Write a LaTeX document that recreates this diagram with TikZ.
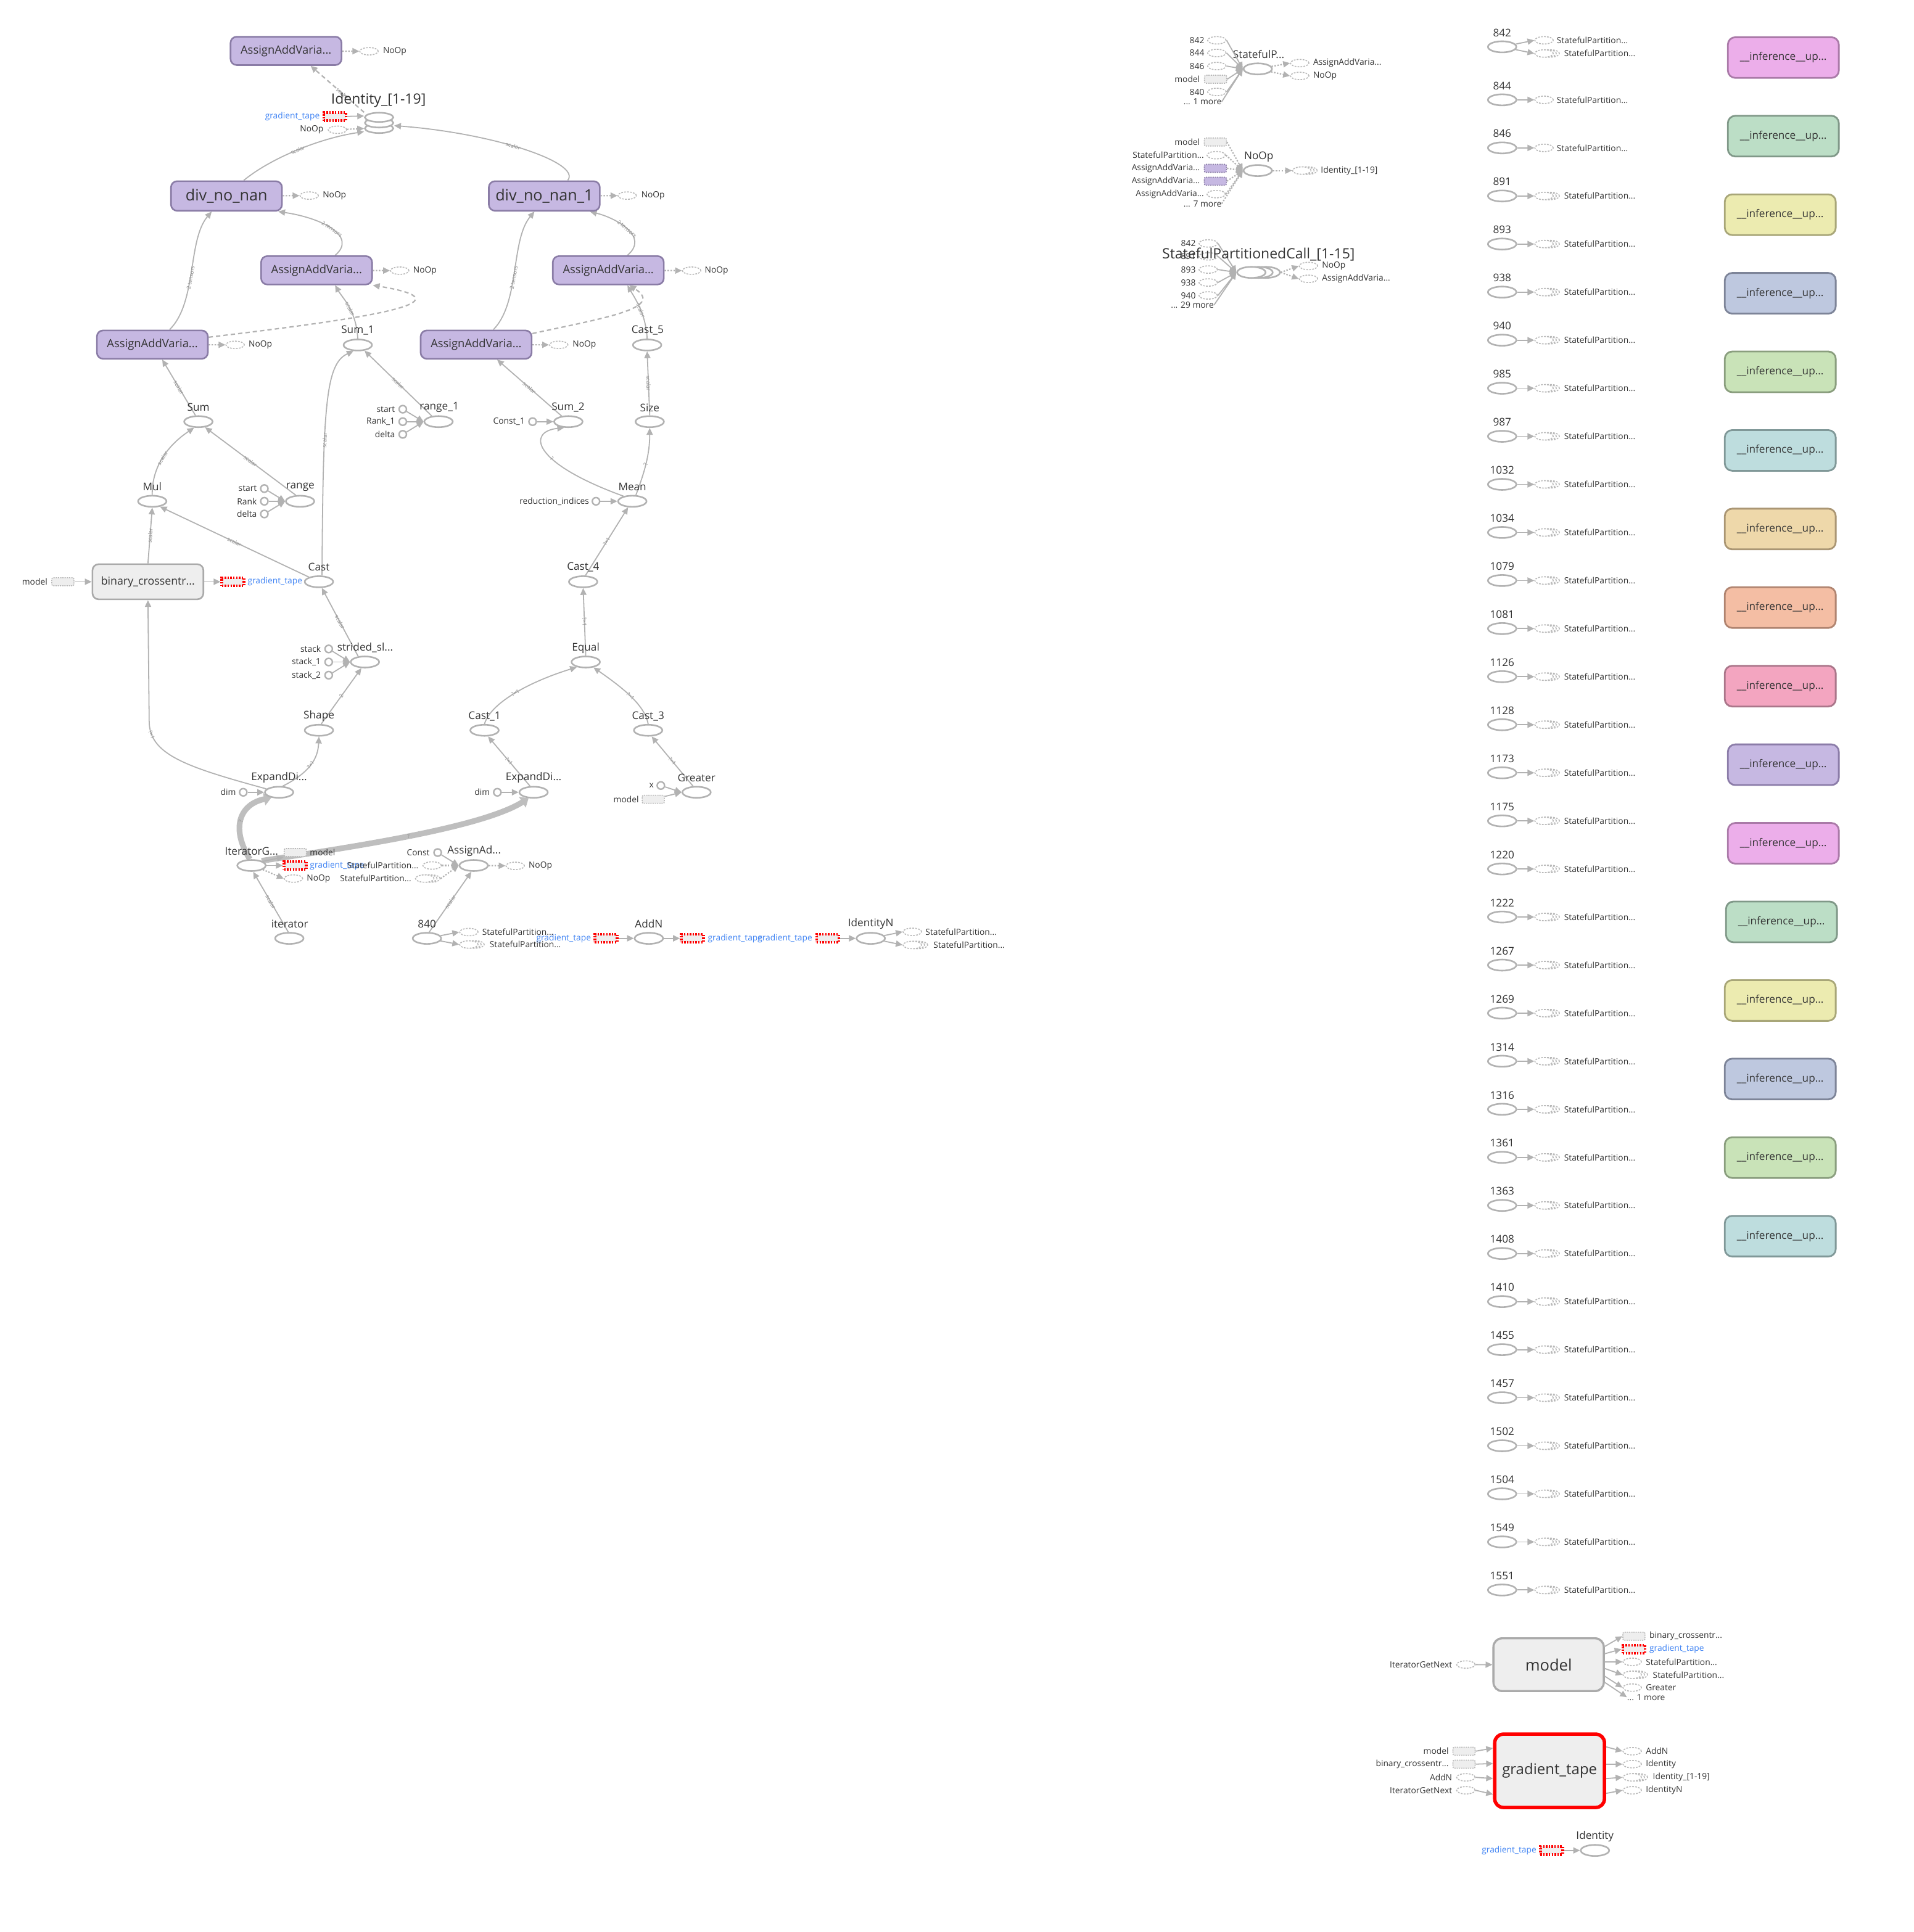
\documentclass[tikz,border=0pt]{standalone}
\usepackage{fontspec}
\setmainfont{Open Sans}
\usetikzlibrary{shapes.geometric,arrows.meta,calc}
\pgfdeclarelayer{back}
\pgfdeclarelayer{edges}
\pgfsetlayers{back,edges,main}

\definecolor{txt}{RGB}{51,51,51}
\definecolor{opc}{RGB}{178,178,178}
\definecolor{edgec}{RGB}{178,178,178}
\definecolor{fatc}{RGB}{190,190,190}
\definecolor{refc}{RGB}{185,185,185}
\definecolor{lightfill}{RGB}{238,238,238}
\definecolor{gborder}{RGB}{170,170,170}
\definecolor{pfill}{RGB}{198,184,226}
\definecolor{pborder}{RGB}{138,124,166}
\definecolor{tapeblue}{RGB}{66,133,244}
\definecolor{elc}{RGB}{140,140,140}
% function-library palette
\definecolor{ipk}{RGB}{236,174,234}\definecolor{ipkB}{RGB}{170,122,168}
\definecolor{igr}{RGB}{188,222,198}\definecolor{igrB}{RGB}{128,152,136}
\definecolor{iye}{RGB}{236,235,176}\definecolor{iyeB}{RGB}{168,166,120}
\definecolor{ibl}{RGB}{190,200,223}\definecolor{iblB}{RGB}{125,132,152}
\definecolor{ilg}{RGB}{201,227,184}\definecolor{ilgB}{RGB}{138,158,126}
\definecolor{ite}{RGB}{190,221,222}\definecolor{iteB}{RGB}{128,152,152}
\definecolor{ita}{RGB}{238,216,170}\definecolor{itaB}{RGB}{170,150,116}
\definecolor{isa}{RGB}{244,190,164}\definecolor{isaB}{RGB}{176,132,112}
\definecolor{iro}{RGB}{243,165,192}\definecolor{iroB}{RGB}{170,118,138}
\definecolor{ilv}{RGB}{198,184,226}\definecolor{ilvB}{RGB}{139,124,168}

% stacked (series) reference: name, x, y
\newcommand\stk[3]{%
  \node[refn] at (#2+5,#3) {};
  \node[refn] at (#2+2.5,#3) {};
  \node[refn] (#1) at (#2,#3) {};}

\begin{document}
\begin{tikzpicture}[x=1pt,y=-1pt,
  op/.style={ellipse, draw=opc, line width=1.3pt, fill=white, minimum width=23pt, minimum height=9pt, inner sep=0pt},
  refn/.style={ellipse, draw=refc, line width=0.8pt, dash pattern=on 1.4pt off 1pt, fill=white, minimum width=15pt, minimum height=6pt, inner sep=0pt},
  cst/.style={circle, draw=opc, line width=1.2pt, fill=white, minimum size=6pt, inner sep=0pt},
  tape/.style={rectangle, draw=red, line width=2.3pt, dash pattern=on 1.2pt off 1.1pt, fill=lightfill, minimum width=18pt, minimum height=6.5pt, inner sep=0pt},
  mref/.style={rectangle, rounded corners=1.2pt, draw=refc, line width=0.8pt, dash pattern=on 1pt off 0.8pt, fill=lightfill, minimum width=18pt, minimum height=6.5pt, inner sep=0pt},
  pref/.style={mref, draw=pborder, fill=pfill},
  fbox/.style={rectangle, rounded corners=5pt, draw=pborder, fill=pfill, line width=1.3pt, minimum width=90pt, minimum height=23pt, inner sep=0pt, text=txt, font=\fontsize{9.2}{10}\selectfont},
  gbox/.style={fbox, draw=gborder, fill=lightfill},
  infbox/.style={rectangle, rounded corners=6pt, line width=1.4pt, minimum width=90pt, minimum height=33pt, inner sep=0pt, text=txt, font=\fontsize{8.6}{10}\selectfont},
  oplbl/.style={font=\fontsize{8.6}{10}\selectfont, text=txt, inner sep=0pt},
  sml/.style={font=\fontsize{6.9}{8}\selectfont, text=txt, inner sep=0pt},
  blu/.style={sml, text=tapeblue},
  big/.style={font=\fontsize{11.5}{13}\selectfont, text=txt, inner sep=0pt},
  link/.style={draw=edgec, line width=0.9pt, -{Triangle[length=5.5pt,width=5pt]}},
  ctl/.style={link, dash pattern=on 1.2pt off 1.2pt, line width=1.1pt},
  dsh/.style={link, dash pattern=on 3.5pt off 2.5pt, line width=1.1pt},
  fat/.style={draw=fatc, line width=4.6pt, -{Triangle[length=6pt,width=10pt]}},
  elbl/.style={font=\fontsize{4.4}{5}\selectfont, text=elc, sloped, inner sep=0.5pt}]

\begin{pgfonlayer}{back}
\fill[white] (0,0) rectangle (1552,1567.5);
\end{pgfonlayer}
\useasboundingbox (0,0) rectangle (1552,1567.5);

% ================= main training graph =================
\node[fbox] (aav0) at (232,41.3) {AssignAddVaria...};
\node[refn] (aav0n) at (299.3,41.6) {};
\node[sml,anchor=west] at (310.5,41.6) {NoOp};

% Identity_[1-19] series icon
\node[op, minimum height=7.5pt] at (307.5,104.2) {};
\node[op, minimum height=7.5pt] at (307.5,99.7) {};
\node[op, minimum height=7.5pt] at (307.5,95.2) {};
\node[minimum width=24pt, minimum height=17pt, inner sep=0pt] (ids) at (307.5,99.8) {};
\node[big] at (307,81.2) {Identity\_[1-19]};
\node[tape] (idtape) at (271.6,94.7) {};
\node[blu,anchor=east] at (259.5,94.7) {gradient\_tape};
\node[refn] (idnoop) at (273.7,105.3) {};
\node[sml,anchor=east] at (262.5,105.3) {NoOp};

\node[fbox, minimum height=24pt, font=\fontsize{12.6}{14}\selectfont] (dnn) at (183.7,159) {div\_no\_nan};
\node[refn] (dnnn) at (250.8,158.7) {};
\node[sml,anchor=west] at (261.6,158.7) {NoOp};
\node[fbox, minimum height=24pt, font=\fontsize{12.6}{14}\selectfont] (dnn1) at (441.5,159) {div\_no\_nan\_1};
\node[refn] (dnn1n) at (508.7,158.7) {};
\node[sml,anchor=west] at (520,158.7) {NoOp};

\node[fbox] (aav1) at (256.8,219.3) {AssignAddVaria...};
\node[refn] (aav1n) at (324.2,219.6) {};
\node[sml,anchor=west] at (335,219.6) {NoOp};
\node[fbox] (aav4) at (493.4,219.3) {AssignAddVaria...};
\node[refn] (aav4n) at (561,219.6) {};
\node[sml,anchor=west] at (571.5,219.6) {NoOp};

\node[fbox] (aav2) at (123.6,279.6) {AssignAddVaria...};
\node[refn] (aav2n) at (190.7,279.8) {};
\node[sml,anchor=west] at (201.5,279.8) {NoOp};
\node[fbox] (aav3) at (386.2,279.6) {AssignAddVaria...};
\node[refn] (aav3n) at (453.2,279.8) {};
\node[sml,anchor=west] at (464.3,279.8) {NoOp};

\node[op] (sum1) at (290.2,279.9) {}; \node[oplbl] at (290.2,267.8) {Sum\_1};
\node[op] (cast5) at (524.9,279.9) {}; \node[oplbl] at (525.3,267.8) {Cast\_5};

\node[op] (sum) at (160.9,342.1) {}; \node[oplbl] at (160.9,330.6) {Sum};
\node[op] (range1) at (355.7,342.1) {}; \node[oplbl] at (356.3,330.6) {range\_1};
\node[cst] (r1a) at (326.7,332) {}; \node[sml,anchor=east] at (320.5,332) {start};
\node[cst] (r1b) at (326.7,342.1) {}; \node[sml,anchor=east] at (320.5,342.1) {Rank\_1};
\node[cst] (r1c) at (326.7,352.4) {}; \node[sml,anchor=east] at (320.5,352.4) {delta};
\node[op] (sum2) at (461,342.1) {}; \node[oplbl] at (460.8,330.6) {Sum\_2};
\node[cst] (c1) at (432,342.1) {}; \node[sml,anchor=east] at (425.8,342.1) {Const\_1};
\node[op] (size) at (527,342.1) {}; \node[oplbl] at (527,330.6) {Size};

\node[op] (mul) at (123.5,406.7) {}; \node[oplbl] at (123.5,395) {Mul};
\node[op] (rng) at (243.4,406.7) {}; \node[oplbl] at (243.6,395) {range};
\node[cst] (ra) at (214.4,396.4) {}; \node[sml,anchor=east] at (208.5,396.4) {start};
\node[cst] (rb) at (214.4,406.7) {}; \node[sml,anchor=east] at (208.5,406.7) {Rank};
\node[cst] (rc) at (214.4,417) {}; \node[sml,anchor=east] at (208.5,417) {delta};
\node[op] (mean) at (512.9,406.7) {}; \node[oplbl] at (512.9,395) {Mean};
\node[cst] (ri) at (483.4,406.7) {}; \node[sml,anchor=east] at (478,406.7) {reduction\_indices};

\node[gbox, minimum height=28.5pt, font=\fontsize{8.9}{10}\selectfont] (bce) at (120,472) {binary\_crossentr...};
\node[mref] (bcem) at (51,472) {}; \node[sml,anchor=east] at (38.6,472) {model};
\node[tape] (bcet) at (189,472) {}; \node[blu,anchor=west] at (200.7,472) {gradient\_tape};
\node[op] (cast) at (258.7,472) {}; \node[oplbl] at (258.7,460.2) {Cast};
\node[op] (cast4) at (473,472) {}; \node[oplbl] at (473,460.2) {Cast\_4};

\node[op] (ss) at (296,537.1) {}; \node[oplbl] at (296.2,525.7) {strided\_sl...};
\node[cst] (s1) at (266.6,526.5) {}; \node[sml,anchor=east] at (260.4,526.5) {stack};
\node[cst] (s2) at (266.6,537.1) {}; \node[sml,anchor=east] at (260.4,537.1) {stack\_1};
\node[cst] (s3) at (266.6,547.8) {}; \node[sml,anchor=east] at (260.4,547.8) {stack\_2};
\node[op] (equal) at (475.1,537.1) {}; \node[oplbl] at (475.1,525.7) {Equal};

\node[op] (shape) at (258.7,592.5) {}; \node[oplbl] at (258.7,581) {Shape};
\node[op] (cast1) at (393,592.5) {}; \node[oplbl] at (393,581) {Cast\_1};
\node[op] (cast3) at (525.7,592.5) {}; \node[oplbl] at (525.7,581) {Cast\_3};

\node[op] (expL) at (226.4,642.8) {}; \node[oplbl] at (226.4,631) {ExpandDi...};
\node[cst] (dimL) at (197.3,642.8) {}; \node[sml,anchor=east] at (191.5,642.8) {dim};
\node[op] (expR) at (432.8,642.8) {}; \node[oplbl] at (432.8,631) {ExpandDi...};
\node[cst] (dimR) at (403.4,642.8) {}; \node[sml,anchor=east] at (397.5,642.8) {dim};
\node[op] (greater) at (565,642.8) {}; \node[oplbl] at (565,631) {Greater};
\node[cst] (gx) at (536,637.3) {}; \node[sml,anchor=east] at (530.5,637.3) {x};
\node[mref] (gm) at (529.9,648.5) {}; \node[sml,anchor=east] at (518.3,648.5) {model};

\node[op] (iterG) at (204,702.2) {}; \node[oplbl] at (204,690.7) {IteratorG...};
\node[mref] (im) at (239.5,691.7) {}; \node[sml,anchor=west] at (251.2,691.7) {model};
\node[tape] (it) at (239.5,702.2) {}; \node[blu,anchor=west] at (251.2,702.2) {gradient\_tape};
\node[refn] (in) at (238,712.8) {}; \node[sml,anchor=west] at (248.7,712.8) {NoOp};

\node[op] (aad) at (384.2,702.2) {}; \node[oplbl] at (384.6,690.7) {AssignAd...};
\node[cst] (aadc) at (355,691.7) {}; \node[sml,anchor=east] at (348.7,691.7) {Const};
\node[refn] (aads1) at (350.5,702.2) {}; \node[sml,anchor=east] at (339.6,702.2) {StatefulPartition...};
\stk{aads2}{344.5}{712.8} \node[sml,anchor=east] at (333.8,712.8) {StatefulPartition...};
\node[refn] (aadn) at (417.9,702.5) {}; \node[sml,anchor=west] at (428.6,702.5) {NoOp};

\node[op] (iter) at (234.7,761.3) {}; \node[oplbl] at (235,749.7) {iterator};
\node[op] (n840) at (346.3,761.3) {}; \node[oplbl] at (346.3,749.7) {840};
\node[refn] (o840a) at (380.3,756.2) {}; \node[sml,anchor=west] at (391,756.2) {StatefulPartition...};
\stk{o840b}{380.3}{766.3} \node[sml,anchor=west] at (397,766.3) {StatefulPartition...};

\node[op] (addn) at (526.3,761.3) {}; \node[oplbl] at (526.3,749.7) {AddN};
\node[tape] (addnin) at (491.5,761.3) {}; \node[blu,anchor=east] at (479.5,761.3) {gradient\_tape};
\node[tape] (addnout) at (561.6,761.3) {}; \node[blu,anchor=west] at (574,761.3) {gradient\_tape};
\node[tape] (idnin) at (671.4,761.3) {}; \node[blu,anchor=east] at (659,761.3) {gradient\_tape};
\node[op] (idn) at (706.3,761.3) {}; \node[oplbl] at (706.3,749.7) {IdentityN};
\node[refn] (idno1) at (740,756) {}; \node[sml,anchor=west] at (750.5,756) {StatefulPartition...};
\stk{idno2}{740}{766.7} \node[sml,anchor=west] at (757,766.7) {StatefulPartition...};

\begin{pgfonlayer}{edges}
\draw[ctl] (aav0) -- (aav0n);
\draw[ctl] (dnn) -- (dnnn);
\draw[ctl] (dnn1) -- (dnn1n);
\draw[ctl] (aav1) -- (aav1n);
\draw[ctl] (aav4) -- (aav4n);
\draw[ctl] (aav2) -- (aav2n);
\draw[ctl] (aav3) -- (aav3n);
\draw[dsh] (ids.north west) -- ([xshift=20pt]aav0.south) node[elbl,pos=.4] {scalar};
\draw[link] (idtape) -- (ids.155);
\draw[ctl] (idnoop) -- (ids.200);
\draw[link] ([xshift=14pt]dnn.north) .. controls (220,128) and (260,112) .. (ids.210) node[elbl,pos=.5] {scalar};
\draw[link] ([xshift=19pt]dnn1.north) .. controls (472,132) and (400,108) .. (ids.-10) node[elbl,pos=.55] {scalar};
\draw[link] ([xshift=15pt]aav1.north) .. controls (290,192) and (262,177) .. ([xshift=42pt]dnn.south) node[elbl,pos=.5] {2 tensors};
\draw[link] ([xshift=14pt]aav2.north) .. controls (160,245) and (152,195) .. ([xshift=-12pt]dnn.south) node[elbl,pos=.45] {2 tensors};
\draw[link] ([xshift=14pt]aav3.north) .. controls (422,245) and (414,195) .. ([xshift=-8pt]dnn1.south) node[elbl,pos=.45] {2 tensors};
\draw[link] ([xshift=15.5pt]aav4.north) .. controls (527,192) and (500,177) .. ([xshift=37pt]dnn1.south) node[elbl,pos=.5] {2 tensors};
\draw[dsh] ([yshift=6pt]aav2.east) .. controls (300,258) and (385,245) .. (aav1.south east);
\draw[dsh] ([yshift=9pt]aav3.east) .. controls (490,258) and (540,250) .. ([xshift=17pt]aav4.south);
\draw[link] (sum1.north) .. controls (289,252) and (278,242) .. ([xshift=15pt]aav1.south) node[elbl,pos=.45] {scalar};
\draw[link] (cast5.north) .. controls (524,255) and (515,242) .. ([xshift=15.5pt]aav4.south) node[elbl,pos=.45] {scalar};
\draw[link] (sum.115) -- ([xshift=8pt]aav2.south) node[elbl,pos=.5] {scalar};
\draw[link] (range1.140) -- (sum1.-40) node[elbl,pos=.5] {scalar};
\draw[link] (sum2.140) -- ([xshift=17pt]aav3.south) node[elbl,pos=.5] {scalar};
\draw[link] (size.north) -- (cast5.south) node[elbl,pos=.5] {scalar};
\foreach \a in {r1a,r1b,r1c} \draw[link] (\a) -- (range1.west);
\draw[link] (c1) -- (sum2.west);
\draw[link] (mul.north) .. controls (123,380) and (135,362) .. (sum.235) node[elbl,pos=.5] {scalar};
\draw[link] (rng.125) -- (sum.-40) node[elbl,pos=.5] {scalar};
\foreach \a in {ra,rb,rc} \draw[link] (\a) -- (rng.west);
\draw[link] (mean.60) .. controls (522,385) and (527,370) .. (size.south) node[elbl,pos=.5] {?};
\draw[link] (mean.150) .. controls (430,375) and (428,350) .. (sum2.235) node[elbl,pos=.4] {?};
\draw[link] (ri) -- (mean.west);
\draw[link] ([xshift=2.5pt]cast.north) .. controls (262,330) and (264,295) .. (sum1.235) node[elbl,pos=.35] {scalar};
\draw[link] (bce.north) -- (mul.south) node[elbl,pos=.5] {scalar};
\draw[link] (cast.155) -- (mul.-35) node[elbl,pos=.5] {scalar};
\draw[link] (bcem) -- (bce.west);
\draw[link] (bce.east) -- (bcet.west);
\draw[link] (cast4.70) -- (mean.235) node[elbl,pos=.5] {?×1};
\draw[link] (ss.140) -- (cast.-65) node[elbl,pos=.5] {scalar};
\foreach \a in {s1,s2,s3} \draw[link] (\a) -- (ss.west);
\draw[link] (equal.north) -- (cast4.south) node[elbl,pos=.5] {?×1};
\draw[link] (shape.70) -- (ss.240) node[elbl,pos=.5] {2};
\draw[link] (cast1.north) .. controls (398,570) and (430,553) .. (equal.210) node[elbl,pos=.5] {?×1};
\draw[link] (cast3.north) .. controls (523,572) and (505,558) .. (equal.-35) node[elbl,pos=.5] {?×1};
\draw[link] (expL.60) .. controls (255,625) and (258,612) .. (shape.south) node[elbl,pos=.45] {?×1};
\draw[link] (expL.165) .. controls (150,622) and (121,612) .. (121,585) node[elbl,pos=.85] {?×1} -- (bce.south);
\draw[link] (dimL) -- (expL.west);
\draw[link] (expR.120) -- (cast1.-60) node[elbl,pos=.5] {?×1};
\draw[link] (dimR) -- (expR.west);
\draw[link] (greater.120) -- (cast3.-60) node[elbl,pos=.5] {?×1};
\draw[link] (gx) -- (greater.west);
\draw[link] (gm) -- (greater.west);
\draw[fat] (iterG.105) .. controls (186,670) and (196,652) .. (expL.215) node[elbl,pos=.45] {?};
\draw[fat] (iterG.25) .. controls (280,688) and (390,672) .. (expR.230) node[elbl,pos=.5] {?};
\draw[link] (iterG.20) -- (im.south west);
\draw[link] (iterG.east) -- (it.west);
\draw[ctl] (iterG.-20) -- (in.west);
\draw[link] (iter.100) -- (iterG.-75) node[elbl,pos=.5] {scalar};
\draw[link] (n840.70) -- (aad.-110) node[elbl,pos=.5] {scalar};
\draw[link] (aadc) -- (aad.west);
\draw[ctl] (aads1) -- (aad.west);
\draw[ctl] ([xshift=5pt]aads2.east) -- (aad.west);
\draw[ctl] (aad) -- (aadn);
\draw[link] (n840) -- (o840a.west);
\draw[link] (n840) -- (o840b.west);
\draw[link] (addnin) -- (addn);
\draw[link] (addn) -- (addnout);
\draw[link] (idnin) -- (idn);
\draw[link] (idn) -- (idno1.west);
\draw[link] (idn) -- (idno2.west);
\end{pgfonlayer}

% ================= StatefulP... =================
\node[refn] (sp842) at (987,32.7) {}; \node[sml,anchor=east] at (977,32.7) {842};
\node[refn] (sp844) at (987,43) {}; \node[sml,anchor=east] at (977,43) {844};
\node[refn] (sp846) at (987,53.6) {}; \node[sml,anchor=east] at (977,53.6) {846};
\node[mref] (spm) at (986,64.3) {}; \node[sml,anchor=east] at (973.4,64.3) {model};
\node[refn] (sp840) at (987,74.6) {}; \node[sml,anchor=east] at (977,74.6) {840};
\node[sml,anchor=east] (sp1m) at (991,82.5) {... 1 more};
\node[op] (spp) at (1020.2,55.9) {}; \node[oplbl] at (1020.9,44.3) {StatefulP...};
\node[refn] (spo1) at (1054.2,51.2) {}; \node[sml,anchor=west] at (1065,51.2) {AssignAddVaria...};
\node[refn] (spo2) at (1054.2,61.6) {}; \node[sml,anchor=west] at (1065,61.6) {NoOp};
\foreach \a in {sp842,sp844,sp846,spm,sp840,sp1m} \draw[link] (\a.east) -- (spp.west);
\draw[ctl] (spp) -- (spo1.west);
\draw[ctl] (spp) -- (spo2.west);

% ================= NoOp =================
\node[mref] (nm) at (985.8,115.2) {}; \node[sml,anchor=east] at (973.4,115.2) {model};
\node[refn] (ns) at (986.5,125.9) {}; \node[sml,anchor=east] at (976.7,125.9) {StatefulPartition...};
\node[pref] (np1) at (985.8,136.6) {}; \node[sml,anchor=east] at (973.4,136.6) {AssignAddVaria...};
\node[pref] (np2) at (985.8,147) {}; \node[sml,anchor=east] at (973.4,147) {AssignAddVaria...};
\node[refn] (na) at (986.5,157.5) {}; \node[sml,anchor=east] at (976.7,157.5) {AssignAddVaria...};
\node[sml,anchor=east] (n7m) at (991,165.2) {... 7 more};
\node[op] (nop) at (1020.2,138.4) {}; \node[oplbl] at (1021,127.1) {NoOp};
\stk{nopo}{1055.9}{138.4} \node[sml,anchor=west] at (1071.2,138.4) {Identity\_[1-19]};
\foreach \a in {nm,ns,np1,np2,na,n7m} \draw[ctl] (\a.east) -- (nop.west);
\draw[ctl] (nop) -- (nopo.west);

% ================= StatefulPartitionedCall_[1-15] =================
\node[refn] (c842) at (980,197.5) {}; \node[sml,anchor=east] at (970,197.5) {842};
\node[refn] (c891) at (980,208) {}; \node[sml,anchor=east] at (970,208) {891};
\node[refn] (c893) at (980,218.7) {}; \node[sml,anchor=east] at (970,218.7) {893};
\node[refn] (c938) at (980,229.2) {}; \node[sml,anchor=east] at (970,229.2) {938};
\node[refn] (c940) at (980,239.7) {}; \node[sml,anchor=east] at (970,239.7) {940};
\node[sml,anchor=east] (c29) at (984.7,247.5) {... 29 more};
\node[op] (spcb2) at (1026.7,221) {};
\node[op] (spcb1) at (1020.8,221) {};
\node[op] (spc) at (1015,221) {};
\node[refn] (spco1) at (1061.3,215.8) {}; \node[sml,anchor=west] at (1072.2,215.8) {NoOp};
\node[refn] (spco2) at (1061.3,226.2) {}; \node[sml,anchor=west] at (1072.2,226.2) {AssignAddVaria...};
\foreach \a in {c842,c891,c893,c938,c940,c29} \draw[link] (\a.east) -- (spc.west);
\draw[ctl] (spcb2.east) -- (spco1.west);
\draw[ctl] (spcb2.east) -- (spco2.west);
\node[big] at (1020.8,206.2) {StatefulPartitionedCall\_[1-15]};

% ================= variable reads column =================
\node[op] (rc842) at (1218.4,38) {}; \node[oplbl] at (1218.4,26.5) {842};
\node[refn] (ro842a) at (1252.4,32.7) {}; \node[sml,anchor=west] at (1262.5,32.7) {StatefulPartition...};
\stk{ro842b}{1252.4}{43.4} \node[sml,anchor=west] at (1268.5,43.4) {StatefulPartition...};
\draw[link] (rc842) -- (ro842a.west);
\draw[link] (rc842) -- (ro842b.west);
\foreach \nm [count=\i from 0] in {844,846,891,893,938,940,985,987,1032,1034,1079,1081,1126,1128,1173,1175,1220,1222,1267,1269,1314,1316,1361,1363,1408,1410,1455,1457,1502,1504,1549,1551}{
  \pgfmathsetmacro\yy{81+39*\i}
  \node[op] (rc\nm) at (1218.4,\yy) {};
  \node[oplbl] at (1218.4,\yy-11.5) {\nm};
  \ifnum\i<2
    \node[refn] (ro\nm) at (1252.4,\yy) {};
    \node[sml,anchor=west] at (1262.5,\yy) {StatefulPartition...};
  \else
    \stk{ro\nm}{1252.4}{\yy}
    \node[sml,anchor=west] at (1268.5,\yy) {StatefulPartition...};
  \fi
  \draw[link] (rc\nm) -- (ro\nm.west);
}

% ================= function library =================
\foreach \fc/\bc/\xx [count=\i from 0] in {ipk/ipkB/1446.5,igr/igrB/1446.5,iye/iyeB/1444,ibl/iblB/1444,ilg/ilgB/1444,ite/iteB/1444,ita/itaB/1444,isa/isaB/1444,iro/iroB/1444,ilv/ilvB/1446.5,ipk/ipkB/1446.5,igr/igrB/1445,iye/iyeB/1444,ibl/iblB/1444,ilg/ilgB/1444,ite/iteB/1444}{
  \pgfmathsetmacro\yy{46.7+63.75*\i}
  \node[infbox, fill=\fc, draw=\bc] (inf\i) at (\xx,\yy) {\_\_inference\_\_up...};
}

% ================= model =================
\node[gbox, rounded corners=7pt, line width=1.7pt, minimum width=89.5pt, minimum height=42.8pt, font=\fontsize{12.8}{14}\selectfont] (model) at (1256.1,1350.6) {model};
\node[refn] (mi) at (1189,1350.5) {}; \node[sml,anchor=east] at (1178,1350.5) {IteratorGetNext};
\draw[link] (mi) -- (model.west);
\node[mref] (mo1) at (1325.3,1327.5) {}; \node[sml,anchor=west] at (1337.7,1327.5) {binary\_crossentr...};
\node[tape] (mo2) at (1325.3,1338) {}; \node[blu,anchor=west] at (1337.7,1338) {gradient\_tape};
\node[refn] (mo3) at (1323.9,1348.3) {}; \node[sml,anchor=west] at (1334.8,1348.3) {StatefulPartition...};
\stk{mo4}{1323.9}{1358.8} \node[sml,anchor=west] at (1340.5,1358.8) {StatefulPartition...};
\node[refn] (mo5) at (1323.9,1369.2) {}; \node[sml,anchor=west] at (1334.8,1369.2) {Greater};
\node[sml,anchor=west] (mo6) at (1319.6,1377) {... 1 more};
\draw[link] ([yshift=14.8pt]model.east) -- (mo1.west);
\draw[link] ([yshift=8.9pt]model.east) -- (mo2.west);
\draw[link] ([yshift=2.3pt]model.east) -- (mo3.west);
\draw[link] ([yshift=-3.1pt]model.east) -- (mo4.west);
\draw[link] ([yshift=-9.4pt]model.east) -- (mo5.west);
\draw[link] ([yshift=-14.4pt]model.east) -- (mo6.west);

% ================= gradient_tape =================
\node[gbox, draw=red, rounded corners=7pt, line width=2.8pt, minimum width=89pt, minimum height=59.5pt, font=\fontsize{12}{14}\selectfont] (gt) at (1256.9,1436.7) {gradient\_tape};
\node[mref] (gi1) at (1187.5,1420.8) {}; \node[sml,anchor=east] at (1175.2,1420.8) {model};
\node[mref] (gi2) at (1187.5,1431.3) {}; \node[sml,anchor=east] at (1175.2,1431.3) {binary\_crossentr...};
\node[refn] (gi3) at (1189,1442) {}; \node[sml,anchor=east] at (1178,1442) {AddN};
\node[refn] (gi4) at (1189,1452.5) {}; \node[sml,anchor=east] at (1178,1452.5) {IteratorGetNext};
\draw[link] (gi1.east) -- ([yshift=18.4pt]gt.west);
\draw[link] (gi2.east) -- ([yshift=5.9pt]gt.west);
\draw[link] (gi3.east) -- ([yshift=-6.3pt]gt.west);
\draw[link] (gi4.east) -- ([yshift=-19.1pt]gt.west);
\node[refn] (go1) at (1323.9,1420.8) {}; \node[sml,anchor=west] at (1334.8,1420.8) {AddN};
\node[refn] (go2) at (1323.9,1431.3) {}; \node[sml,anchor=west] at (1334.8,1431.3) {Identity};
\stk{go3}{1323.9}{1442} \node[sml,anchor=west] at (1340.5,1442) {Identity\_[1-19]};
\node[refn] (go4) at (1323.9,1452.5) {}; \node[sml,anchor=west] at (1334.8,1452.5) {IdentityN};
\draw[link] ([yshift=19.4pt]gt.east) -- (go1.west);
\draw[link] ([yshift=5.4pt]gt.east) -- (go2.west);
\draw[link] ([yshift=-6.3pt]gt.east) -- (go3.west);
\draw[link] ([yshift=-18.3pt]gt.east) -- (go4.west);

% ================= Identity =================
\node[op] (idb) at (1293.7,1501.3) {}; \node[oplbl] at (1293.7,1490) {Identity};
\node[tape] (idbt) at (1258.4,1501.3) {}; \node[blu,anchor=east] at (1246.4,1501.3) {gradient\_tape};
\draw[link] (idbt) -- (idb);

\end{tikzpicture}
\end{document}
